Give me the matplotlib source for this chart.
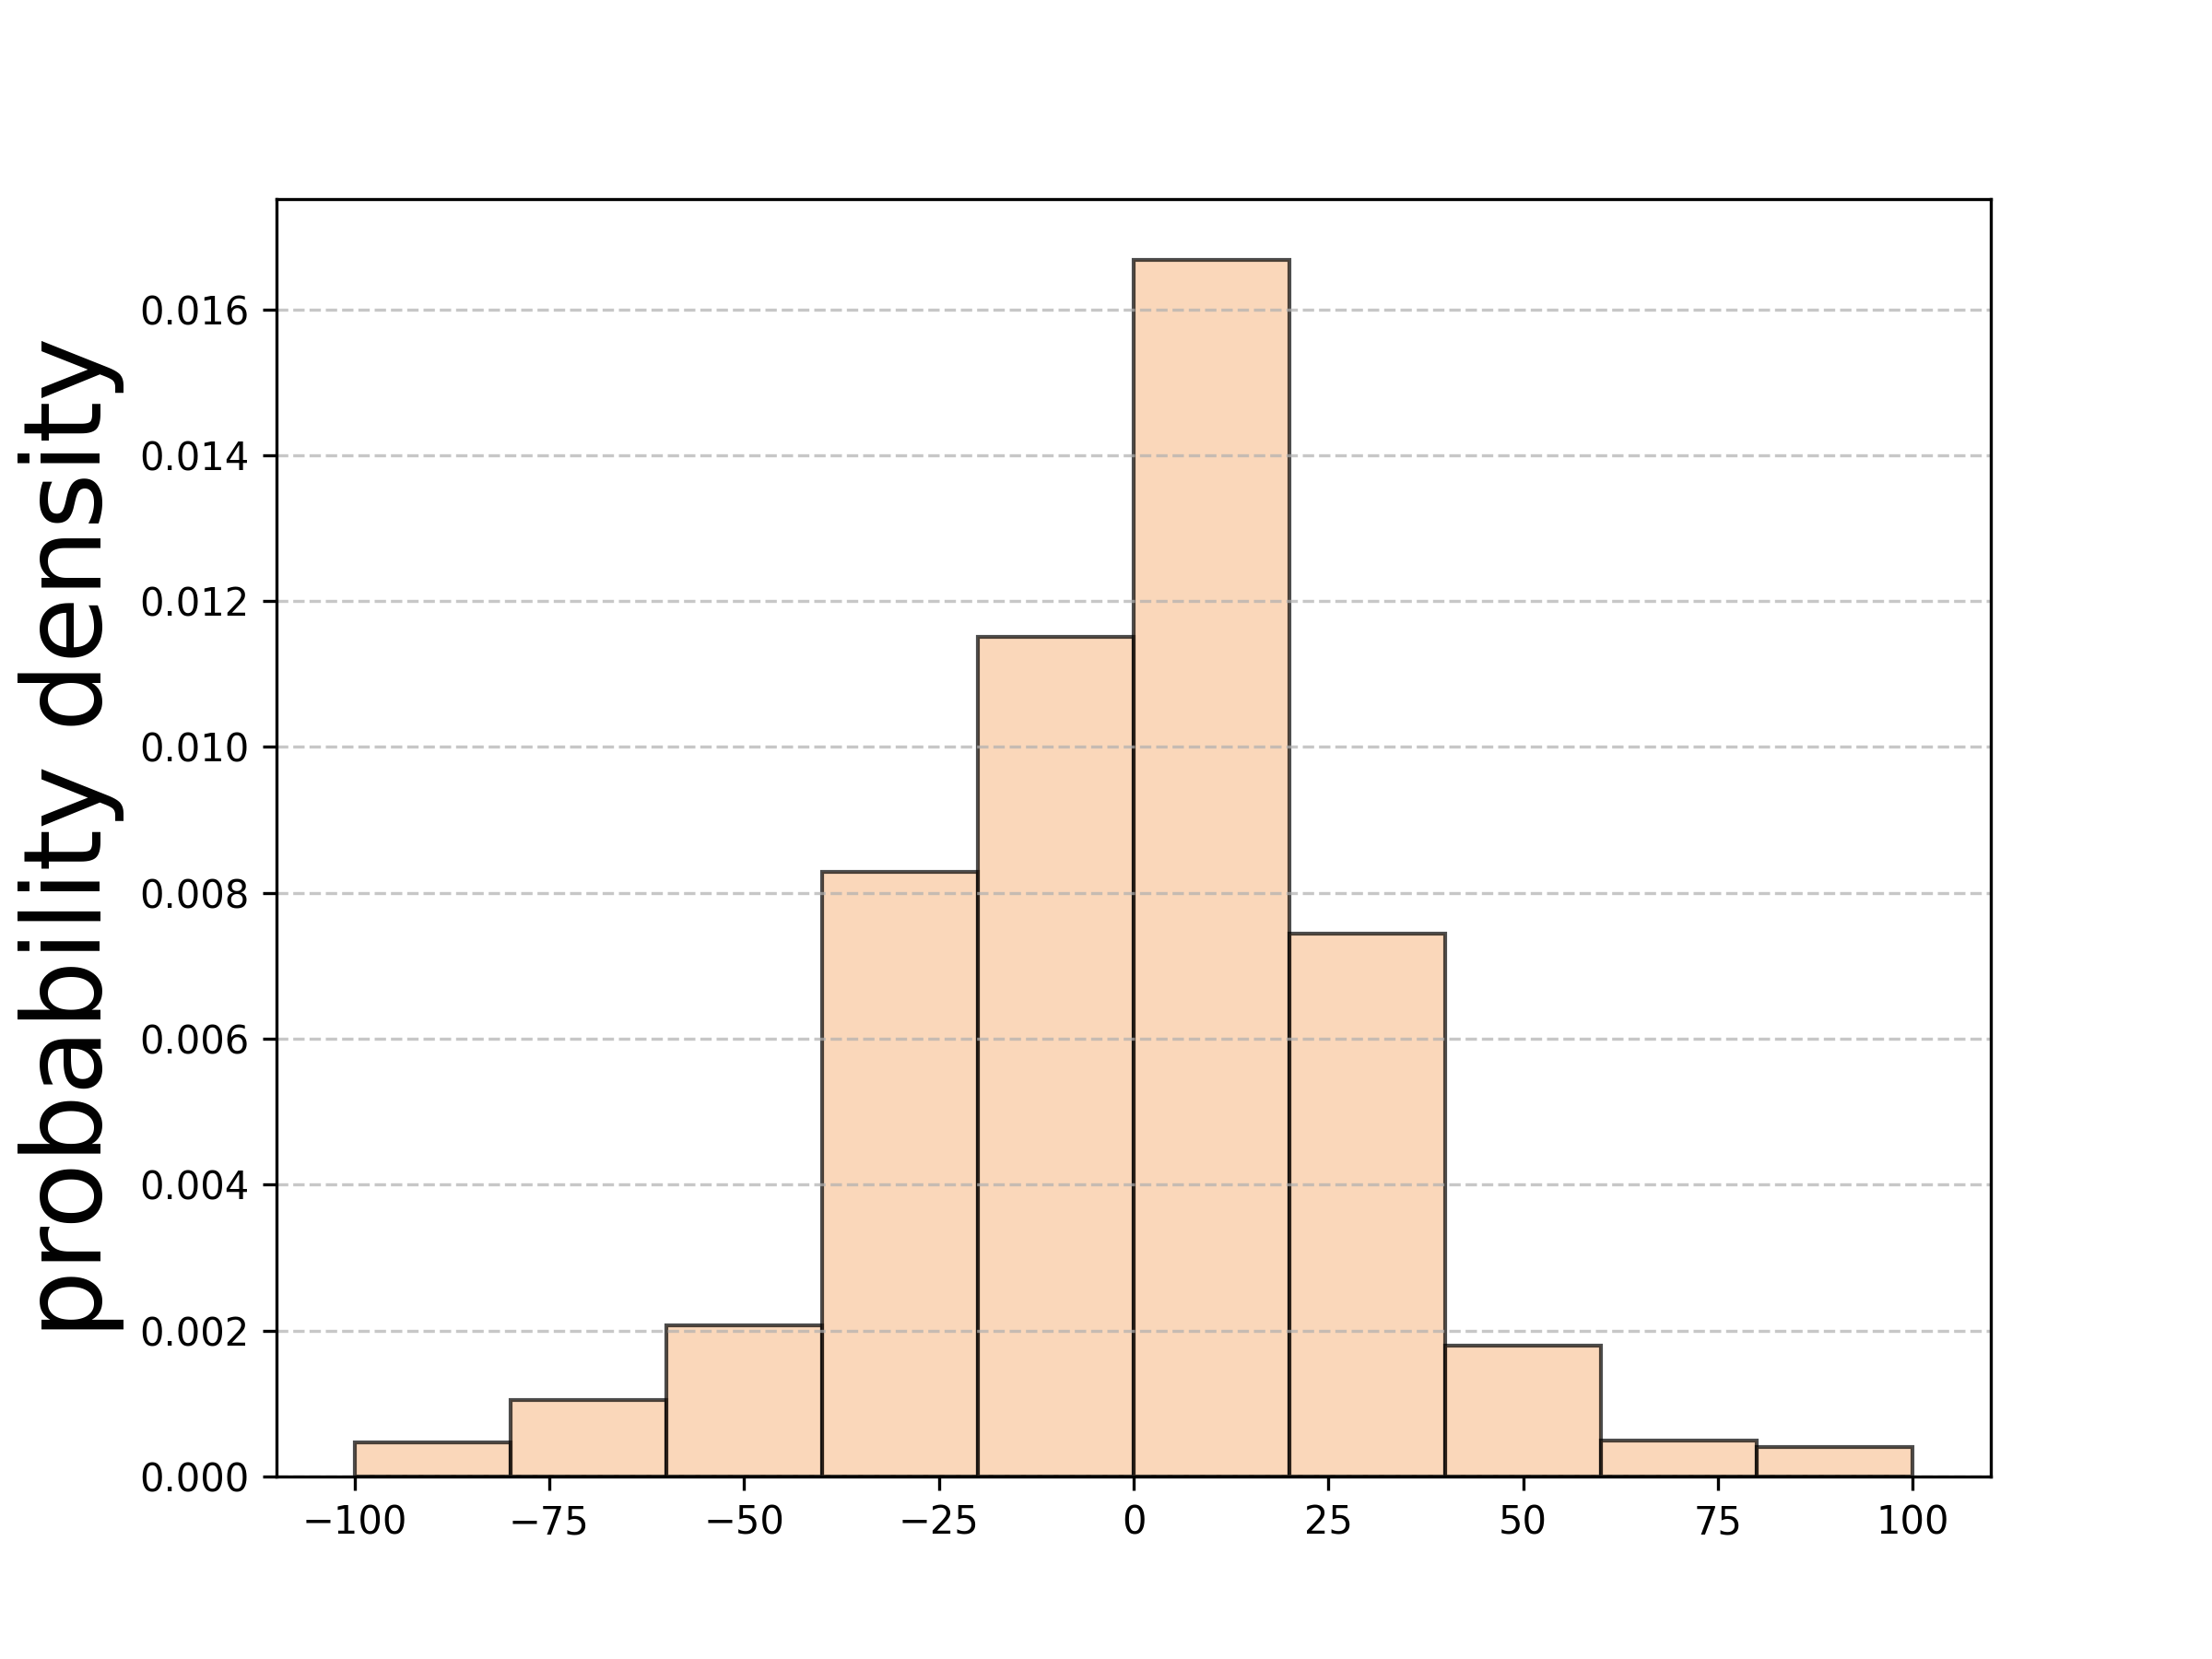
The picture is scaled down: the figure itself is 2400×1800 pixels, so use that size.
import numpy as np
import matplotlib
matplotlib.use("Agg")
import matplotlib.pyplot as plt

# Histogram bin edges and the density value read for each bin
bin_edges = [-100, -80, -60, -40, -20, 0, 20, 40, 60, 80, 100]
density = [0.000473, 0.001049, 0.002068, 0.008286, 0.011506,
           0.016677, 0.007437, 0.001800, 0.000497, 0.000407]

centers = [(a + b) / 2 for a, b in zip(bin_edges[:-1], bin_edges[1:])]

fig, ax = plt.subplots(figsize=(8, 6), dpi=300)
ax.hist(centers, bins=bin_edges, weights=density,
        facecolor=(0.957, 0.643, 0.376, 0.43),
        edgecolor=(0, 0, 0, 0.7), linewidth=1.0)
ax.set_ylabel("probability density", fontsize=28)
ax.grid(axis="y", linestyle="--", alpha=0.7)

fig.savefig("out.png", dpi=300)
